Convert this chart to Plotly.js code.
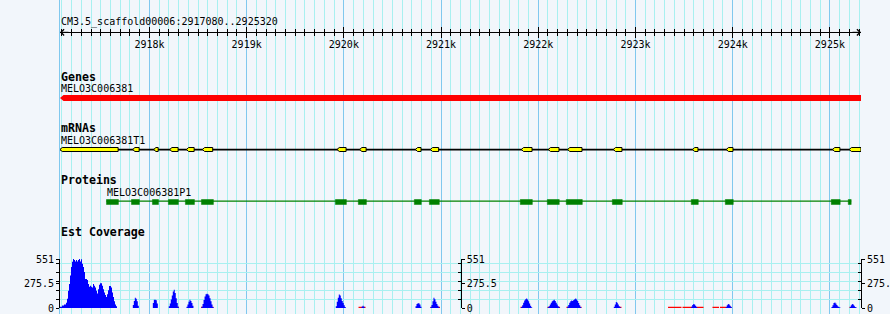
<!DOCTYPE html>
<html><head><meta charset="utf-8">
<script src="https://cdn.plot.ly/plotly-3.0.1.min.js"></script>
<style>html,body{margin:0;padding:0;background:#f2f6fb;} #chart{width:890px;height:314px;}</style>
</head><body><div id="chart"></div>
<script>
// ---------------- data ----------------
const chromName = 'CM3.5_scaffold00006';
const viewStart = 2917080;
const viewEnd = 2925320;
const rulerTicks = [2918000, 2919000, 2920000, 2921000, 2922000, 2923000, 2924000, 2925000];
const rulerTickText = ['2918k', '2919k', '2920k', '2921k', '2922k', '2923k', '2924k', '2925k'];

const geneName = 'MELO3C006381';
const geneStart = 2917080;
const geneEnd = 2925320;

const mrnaName = 'MELO3C006381T1';
const exonStarts = [2917080, 2917828, 2918044, 2918209, 2918381, 2918545, 2919930, 2920163, 2920736, 2920890, 2921826, 2922103, 2922302, 2922772, 2923587, 2923934, 2925027, 2925199];
const exonEnds   = [2917678, 2917894, 2918090, 2918295, 2918460, 2918651, 2920023, 2920229, 2920794, 2920975, 2921936, 2922213, 2922450, 2922861, 2923643, 2924003, 2925103, 2925320];

const proteinName = 'MELO3C006381P1';
const cdsStarts = [2917558, 2917815, 2918031, 2918195, 2918370, 2918535, 2919913, 2920149, 2920725, 2920880, 2921815, 2922093, 2922288, 2922762, 2923574, 2923924, 2925014, 2925189];
const cdsEnds   = [2917681, 2917897, 2918093, 2918298, 2918463, 2918658, 2920026, 2920232, 2920797, 2920982, 2921939, 2922216, 2922453, 2922864, 2923646, 2924006, 2925106, 2925219];

// EST coverage: each peak = start position + values per bin
const covMax = 551;
const covTickVals = [0, 275.5, 551];
const covTickText = ['0', '275.5', '551'];
const covGridVals = [0, 100, 200, 300, 400, 500, 551];
const covMinorVals = [100, 200, 300, 400, 500];
const covBin = 10.287;
const covStarts = [2917080, 2917829, 2918035, 2918199, 2918381, 2918536, 2919917, 2920182, 2920737, 2920891, 2921824, 2922098, 2922298, 2922777, 2923573, 2923929, 2925016, 2925205];
const covValues = [
  [15, 15, 27, 27, 39, 39, 58, 104, 193, 270, 367, 463, 521, 551, 540, 525, 540, 525, 540, 551, 525, 548, 500, 463, 405, 328, 328, 316, 270, 240, 251, 240, 232, 270, 251, 232, 193, 162, 212, 262, 278, 278, 251, 212, 174, 147, 124, 155, 201, 247, 247, 232, 174, 124, 77, 39, 19],
  [35, 80, 115, 105, 75, 25],
  [55, 92, 92, 88, 50],
  [20, 50, 95, 140, 185, 207, 170, 110, 55, 15],
  [15, 40, 70, 92, 80, 55, 25],
  [15, 45, 90, 130, 155, 161, 155, 140, 110, 75, 40, 12],
  [20, 70, 115, 153, 140, 110, 80, 55, 30, 10],
  [15, 25, 15],
  [20, 45, 54, 54, 40, 15],
  [10, 35, 75, 115, 100, 70, 45, 25, 8],
  [10, 30, 60, 85, 100, 107, 95, 75, 50, 25, 8],
  [8, 20, 40, 60, 75, 85, 92, 80, 60, 40, 20, 8],
  [15, 35, 60, 75, 85, 80, 90, 100, 107, 95, 80, 55, 30, 10],
  [15, 40, 69, 60, 40, 20, 8],
  [15, 35, 46, 40, 25, 10],
  [10, 30, 46, 40, 25, 10],
  [10, 30, 55, 61, 50, 35, 20, 10, 5],
  [10, 30, 46, 40, 25, 12, 5]
];
// low-level (red) coverage stretches
const lowStarts = [2918284, 2918531, 2918639, 2920151, 2920891, 2920963, 2921817, 2922095, 2922203, 2922290, 2922424, 2922830, 2923335, 2923484, 2923792, 2923869, 2925202];
const lowEnds   = [2918304, 2918551, 2918659, 2920223, 2920917, 2920989, 2921843, 2922116, 2922224, 2922311, 2922445, 2922856, 2923473, 2923700, 2923859, 2923988, 2925243];
const lowLevel = 14;

// ---------------- styles / layout constants ----------------
const W = 890, H = 314, ML = 60, MR = 29;
const PLOT_W = W - ML - MR;
const bpPerPx = (viewEnd - viewStart) / PLOT_W;
const BG = '#f2f6fb', MAJOR = '#80c8ee', MINOR = '#a8f0f0';
const MONO = 'DejaVu Sans Mono, Liberation Mono, monospace';
const ROW = {ruler: 32.3, chrom: 21.5, genesT: 76.8, geneL: 88.7, geneTop: 95, geneBot: 101,
  mrnaT: 127.8, mrnaL: 140.7, mrnaTop: 147.5, mrnaBot: 151.5, mrnaLine: 149.6,
  protT: 180.3, protL: 192.7, protTop: 199.5, protBot: 204.5, protLine: 201.2, covT: 232.3,
  covBase: 308, covTop: 259.1};
const py = v => 1 - v / H;

// gene polygon (arrow pointing left)
const gTip = 3.5 * bpPerPx, gMid = (ROW.geneTop + ROW.geneBot) / 2;
const geneTrace = {type: 'scatter', mode: 'lines', xaxis: 'x', yaxis: 'y',
  x: [geneStart, geneStart + gTip, geneEnd, geneEnd, geneStart + gTip, geneStart],
  y: [gMid, ROW.geneTop, ROW.geneTop, ROW.geneBot, ROW.geneBot, gMid],
  fill: 'toself', fillcolor: '#ff0000', line: {width: 0}, hoverinfo: 'skip', showlegend: false};

// mRNA
const mrnaLine = {type: 'scatter', mode: 'lines', x: [exonStarts[0], exonEnds[exonEnds.length - 1]],
  y: [ROW.mrnaLine, ROW.mrnaLine], line: {color: '#000', width: 1.6}, hoverinfo: 'skip', showlegend: false};
const ex = [], ey = [];
const eMid = (ROW.mrnaTop + ROW.mrnaBot) / 2;
exonStarts.forEach((s, i) => {
  const e = exonEnds[i];
  const t = Math.min(2.2 * bpPerPx, (e - s) / 2);
  ex.push(s, s + t, e, e, s + t, s, null);
  ey.push(eMid, ROW.mrnaTop, ROW.mrnaTop, ROW.mrnaBot, ROW.mrnaBot, eMid, null);
});
const exonTrace = {type: 'scatter', mode: 'lines', x: ex, y: ey, fill: 'toself', fillcolor: '#ffff00',
  line: {color: '#000', width: 1}, hoverinfo: 'skip', showlegend: false};

// protein
const protLine = {type: 'scatter', mode: 'lines', x: [cdsStarts[0], cdsEnds[cdsEnds.length - 1]],
  y: [ROW.protLine, ROW.protLine], line: {color: '#008000', width: 1.3}, hoverinfo: 'skip', showlegend: false};
const cx = [], cy = [];
cdsStarts.forEach((s, i) => {
  const e = cdsEnds[i];
  cx.push(s, e, e, s, s, null);
  cy.push(ROW.protTop, ROW.protTop, ROW.protBot, ROW.protBot, ROW.protTop, null);
});
const cdsTrace = {type: 'scatter', mode: 'lines', x: cx, y: cy, fill: 'toself', fillcolor: '#008000',
  line: {color: '#008000', width: 0.5}, hoverinfo: 'skip', showlegend: false};

// coverage
const lx = [], ly = [];
lowStarts.forEach((s, i) => { lx.push(s, lowEnds[i]); ly.push(lowLevel, 0); });
const lowTrace = {type: 'scatter', mode: 'lines', xaxis: 'x', yaxis: 'y2', x: lx, y: ly,
  line: {width: 0, shape: 'hv'}, fill: 'tozeroy', fillcolor: '#ff0000', hoverinfo: 'skip', showlegend: false};
const bx = [], by = [];
covStarts.forEach((s, i) => {
  const vals = covValues[i];
  vals.forEach((v, j) => { bx.push(s + j * covBin); by.push(v); });
  bx.push(s + vals.length * covBin); by.push(0);
});
const covTrace = {type: 'scatter', mode: 'lines', xaxis: 'x', yaxis: 'y2', x: bx, y: by,
  line: {width: 0, shape: 'hv'}, fill: 'tozeroy', fillcolor: '#0000ff', hoverinfo: 'skip', showlegend: false};

const empty = (xa, ya) => ({type: 'scatter', mode: 'markers', x: [], y: [], xaxis: xa, yaxis: ya, hoverinfo: 'skip', showlegend: false});

const data = [geneTrace, mrnaLine, exonTrace, protLine, cdsTrace, lowTrace, covTrace,
  empty('x2', 'y'), empty('x3', 'y'), empty('x', 'y3'), empty('x', 'y4'), empty('x', 'y5')];

const rulerPos = py(ROW.ruler);
const covDomain = [py(ROW.covBase), py(ROW.covTop)];
const tickFont = {family: MONO, size: 10, color: '#000'};

function covAxis(extra) {
  return Object.assign({range: [0, covMax], showgrid: false, zeroline: false, showline: true,
    linecolor: '#000', linewidth: 1, tickmode: 'array', tickvals: covTickVals, ticktext: covTickText,
    ticks: 'outside', ticklen: 3, tickcolor: '#000', tickwidth: 1, tickfont: tickFont, fixedrange: true,
    minor: {tickmode: 'array', tickvals: covMinorVals, ticks: 'outside', ticklen: 3, tickcolor: '#000', tickwidth: 1, showgrid: false}}, extra);
}

const rulerMinor = {tickmode: 'linear', tick0: 0, dtick: 100, ticks: 'outside', ticklen: 3, tickwidth: 1, tickcolor: '#000', showgrid: false};

const layout = {
  width: W, height: H, margin: {l: ML, r: MR, t: 0, b: 0, pad: 0},
  paper_bgcolor: BG, plot_bgcolor: 'rgba(0,0,0,0)', showlegend: false,
  xaxis: {domain: [0, 1], range: [viewStart, viewEnd], anchor: 'y', showgrid: true, gridcolor: MAJOR, gridwidth: 1,
    tickmode: 'linear', tick0: 0, dtick: 1000, ticks: '', showticklabels: false, zeroline: false, showline: false, fixedrange: true,
    minor: {tickmode: 'linear', tick0: 0, dtick: 100, showgrid: true, gridcolor: MINOR, gridwidth: 1, ticks: ''}},
  xaxis2: {overlaying: 'x', anchor: 'free', position: rulerPos, side: 'bottom', range: [viewStart, viewEnd],
    showgrid: false, zeroline: false, showline: true, linecolor: '#000', linewidth: 1,
    ticks: 'outside', ticklen: 5, tickwidth: 1, tickcolor: '#000', tickmode: 'array', tickvals: rulerTicks, ticktext: rulerTickText,
    tickfont: tickFont, ticklabelstandoff: -2, fixedrange: true, minor: rulerMinor},
  xaxis3: {overlaying: 'x', anchor: 'free', position: rulerPos, side: 'top', range: [viewStart, viewEnd],
    showgrid: false, zeroline: false, showline: false, showticklabels: false,
    ticks: 'outside', ticklen: 5, tickwidth: 1, tickcolor: '#000', tickmode: 'array', tickvals: rulerTicks, fixedrange: true,
    minor: rulerMinor},
  yaxis: {domain: [0, 1], range: [H, 0], anchor: 'x', showgrid: false, zeroline: false, showticklabels: false, ticks: '',
    showline: true, linecolor: MAJOR, linewidth: 1, fixedrange: true},
  yaxis2: covAxis({domain: covDomain, anchor: 'x', side: 'left'}),
  yaxis3: covAxis({overlaying: 'y2', anchor: 'free', position: (460.7 - ML) / PLOT_W, side: 'right',
    minor: {tickmode: 'array', tickvals: covMinorVals, ticks: 'inside', ticklen: 3, tickcolor: '#000', tickwidth: 1, showgrid: false}}),
  yaxis4: covAxis({overlaying: 'y2', anchor: 'free', position: 1, side: 'right',
    minor: {tickmode: 'array', tickvals: covMinorVals, ticks: 'inside', ticklen: 3, tickcolor: '#000', tickwidth: 1, showgrid: false}}),
  yaxis5: {overlaying: 'y2', anchor: 'x', side: 'left', range: [0, covMax], tickmode: 'array', tickvals: covGridVals,
    showgrid: true, gridcolor: MINOR, gridwidth: 1, showticklabels: false, ticks: '', showline: false, zeroline: false, fixedrange: true},
  annotations: [],
  font: {family: MONO, size: 10, color: '#000'}
};

function label(text, xval, xref, ypx, bold) {
  return {text: text, x: xval, xref: xref, xanchor: 'left', y: py(ypx), yref: 'paper', yanchor: 'middle',
    showarrow: false, borderpad: 0,
    font: {family: MONO, size: bold ? 11.6 : 10, color: '#000', weight: bold ? 'bold' : 'normal'}};
}
layout.annotations.push(
  label(chromName + ':' + viewStart + '..' + viewEnd, 0, 'paper', ROW.chrom, false),
  label('Genes', 0, 'paper', ROW.genesT, true),
  label(geneName, 0, 'paper', ROW.geneL, false),
  label('mRNAs', 0, 'paper', ROW.mrnaT, true),
  label(mrnaName, 0, 'paper', ROW.mrnaL, false),
  label('Proteins', 0, 'paper', ROW.protT, true),
  label(proteinName, cdsStarts[0], 'x', ROW.protL, false),
  label('Est Coverage', 0, 'paper', ROW.covT, true),
  {text: '', x: viewStart, xref: 'x', y: rulerPos, yref: 'paper', ax: 10, ay: 0, showarrow: true,
   arrowhead: 4, arrowsize: 1.2, arrowwidth: 1, arrowcolor: '#000', standoff: 0},
  {text: '', x: viewEnd, xref: 'x', y: rulerPos, yref: 'paper', ax: -10, ay: 0, showarrow: true,
   arrowhead: 4, arrowsize: 1.2, arrowwidth: 1, arrowcolor: '#000', standoff: 0}
);

Plotly.newPlot('chart', data, layout, {staticPlot: true, displayModeBar: false});
</script>
</body></html>
